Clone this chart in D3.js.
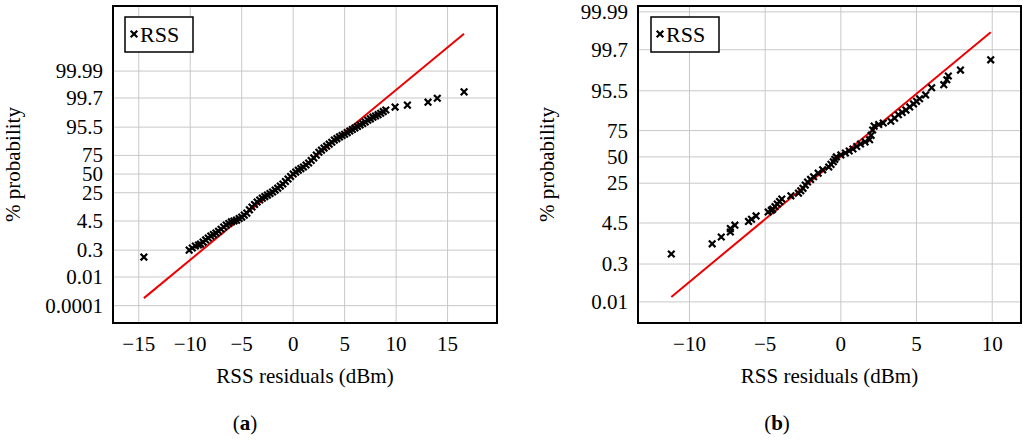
<!DOCTYPE html>
<html>
<head>
<meta charset="utf-8">
<script src="https://cdn.jsdelivr.net/npm/d3@7"></script>
<style>
  body { margin: 0; background: #fff; }
</style>
</head>
<body>
<svg id="chart" width="1024" height="440" font-family="'Liberation Serif', 'Times New Roman', Times, 'DejaVu Serif', serif"></svg>
<script>
// y tick labels (% probability)
const yTicksA = [0.0001, 0.01, 0.3, 4.5, 25, 50, 75, 95.5, 99.7, 99.99]
const yTicksB = [0.01, 0.3, 4.5, 25, 50, 75, 95.5, 99.7, 99.99]
const xTicksA = [-15, -10, -5, 0, 5, 10, 15]
const xTicksB = [-10, -5, 0, 5, 10]

// [residual dBm, % probability]
const pointsA = [
    [-14.5, 0.135], [-10.1, 0.3], [-9.8, 0.38], [-9.5, 0.47], [-9.2, 0.52], [-9.0, 0.57],
    [-8.75, 0.7], [-8.5, 0.87], [-8.25, 1.05], [-8, 1.25], [-7.75, 1.45], [-7.5, 1.66],
    [-7.25, 1.95], [-7, 2.3], [-6.75, 2.8], [-6.5, 3.3], [-6.25, 3.7], [-6, 4.2],
    [-5.75, 4.5], [-5.5, 4.8], [-5.25, 5.4], [-5, 6.0], [-4.75, 6.9], [-4.5, 7.9],
    [-4.25, 9.8], [-4, 11.7], [-3.75, 13.6], [-3.5, 15.6], [-3.25, 17.4], [-3, 19.2],
    [-2.75, 20.8], [-2.5, 22.4], [-2.25, 24.1], [-2, 25.8], [-1.75, 28.1], [-1.5, 30.5],
    [-1.25, 33.2], [-1, 35.9], [-0.75, 39.4], [-0.5, 42.9], [-0.25, 46.5], [0, 50],
    [0.25, 52.8], [0.5, 55.6], [0.75, 57.8], [1, 60], [1.25, 62.8], [1.5, 65.5],
    [1.75, 68.8], [2, 72], [2.25, 75.3], [2.5, 78.5], [2.75, 80.6], [3, 82.6],
    [3.25, 84.3], [3.5, 86], [3.75, 87.5], [4, 89], [4.25, 90], [4.5, 91],
    [4.75, 91.8], [5, 92.5], [5.25, 93.3], [5.5, 94], [5.75, 94.6], [6, 95.2],
    [6.25, 95.7], [6.5, 96.2], [6.75, 96.6], [7, 97], [7.25, 97.4], [7.5, 97.7],
    [7.75, 98.0], [8, 98.2], [8.25, 98.4], [8.5, 98.6], [8.75, 98.8], [9, 98.96],
    [9.9, 99.22], [11.1, 99.36], [13.1, 99.53], [14, 99.69], [16.6, 99.85]
]
const pointsB = [
    [-11.2, 0.64], [-8.5, 1.29], [-7.9, 2.0], [-7.3, 2.7], [-7.3, 3.3], [-7.0, 4.0],
    [-6.1, 4.9], [-5.9, 5.5], [-5.6, 6.5], [-4.8, 7.9], [-4.6, 8.5], [-4.5, 9],
    [-4.35, 10.1], [-4.2, 11.3], [-4.05, 12.6], [-3.9, 14], [-3.3, 15.9], [-2.8, 17.6],
    [-2.65, 19.3], [-2.5, 21], [-2.35, 23.5], [-2.2, 26], [-2.0, 28.2], [-1.8, 30.5],
    [-1.5, 33.8], [-1.2, 37], [-0.8, 39.8], [-0.65, 42.4], [-0.5, 45], [-0.4, 47.5],
    [-0.3, 50], [0, 52], [0.3, 54], [0.55, 56], [0.8, 58], [1.05, 60.5], [1.3, 63],
    [1.6, 65], [1.9, 67], [2.0, 71], [2.1, 75.5], [2.2, 78.5], [2.5, 79.7], [2.8, 80.8],
    [3.3, 82], [3.55, 84], [3.8, 86], [4.05, 87.3], [4.3, 88.5], [4.55, 90], [4.8, 91.3],
    [5.0, 92.3], [5.2, 93.2], [5.6, 94.4], [6.0, 96.2], [6.8, 96.8], [7.0, 97.6],
    [7.1, 98.1], [7.9, 98.7], [9.9, 99.36]
]

// fitted normal lines: endpoints [residual, % probability]
const fitA = [[-14.5, 0.00037], [16.6, 99.99998]]
const fitB = [[-11.2, 0.0165], [9.9, 99.93]]

// inverse normal CDF (Acklam)
function probit(p) {
    const a = [-39.6968302866538, 220.946098424521, -275.928510446969, 138.357751867269, -30.6647980661472, 2.50662827745924]
    const b = [-54.4760987982241, 161.585836858041, -155.698979859887, 66.8013118877197, -13.2806815528857]
    const c = [-0.00778489400243029, -0.322396458041136, -2.40075827716184, -2.54973253934373, 4.37466414146497, 2.93816398269878]
    const d = [0.00778469570904146, 0.32246712907004, 2.445134137143, 3.75440866190742]
    const pl = 0.02425
    let q, r
    if (p < pl) {
        q = Math.sqrt(-2 * Math.log(p))
        return (((((c[0]*q+c[1])*q+c[2])*q+c[3])*q+c[4])*q+c[5]) / ((((d[0]*q+d[1])*q+d[2])*q+d[3])*q+1)
    }
    if (p > 1 - pl) {
        q = Math.sqrt(-2 * Math.log(1 - p))
        return -(((((c[0]*q+c[1])*q+c[2])*q+c[3])*q+c[4])*q+c[5]) / ((((d[0]*q+d[1])*q+d[2])*q+d[3])*q+1)
    }
    q = p - 0.5
    r = q * q
    return (((((a[0]*r+a[1])*r+a[2])*r+a[3])*r+a[4])*r+a[5])*q / (((((b[0]*r+b[1])*r+b[2])*r+b[3])*r+b[4])*r+1)
}

const svg = d3.select("#chart")
const fmt = v => String(v).replace("-", "\u2212")

const drawPanel = (cfg) => {
    const g = svg.append("g")
    const { left, right, top, bottom } = cfg.box
    const x = d3.scaleLinear().domain(cfg.xDomain).range([left, right])
    const z = d3.scaleLinear().domain(cfg.zDomain).range([bottom, top])
    const y = p => z(probit(p / 100))

    // grid
    g.selectAll(".gx").data(cfg.xTicks).enter().append("line")
        .attr("x1", d => x(d)).attr("x2", d => x(d))
        .attr("y1", top).attr("y2", bottom)
        .attr("stroke", "#c8c8c8").attr("stroke-width", 1)
    g.selectAll(".gy").data(cfg.yTicks).enter().append("line")
        .attr("x1", left).attr("x2", right)
        .attr("y1", d => y(d)).attr("y2", d => y(d))
        .attr("stroke", "#c8c8c8").attr("stroke-width", 1)

    // fit line
    g.append("path")
        .datum(cfg.fit)
        .attr("fill", "none")
        .attr("stroke", "#ee0000")
        .attr("stroke-width", 2)
        .attr("d", d3.line().x(d => x(d[0])).y(d => y(d[1])))

    // points
    const sym = d3.symbol(d3.symbolX, 30)
    g.selectAll(".pt").data(cfg.points).enter().append("path")
        .attr("d", sym)
        .attr("transform", d => `translate(${x(d[0])},${y(d[1])})`)
        .attr("fill", "none").attr("stroke", "#000").attr("stroke-width", 2.2)

    // frame
    g.append("rect")
        .attr("x", left).attr("y", top)
        .attr("width", right - left).attr("height", bottom - top)
        .attr("fill", "none").attr("stroke", "#000").attr("stroke-width", 2)

    // tick labels
    g.selectAll(".tx").data(cfg.xTicks).enter().append("text")
        .attr("x", d => x(d)).attr("y", bottom + 28)
        .attr("text-anchor", "middle").attr("font-size", 21)
        .text(fmt)
    g.selectAll(".ty").data(cfg.yTicks).enter().append("text")
        .attr("x", left - 10).attr("y", d => y(d) + 7)
        .attr("text-anchor", "end").attr("font-size", 21)
        .text(d => String(d))

    // axis labels
    g.append("text")
        .attr("x", (left + right) / 2).attr("y", bottom + 60)
        .attr("text-anchor", "middle").attr("font-size", 21)
        .text("RSS residuals (dBm)")
    g.append("text")
        .attr("transform", `translate(${cfg.yLabelX},${(top + bottom) / 2}) rotate(-90)`)
        .attr("text-anchor", "middle").attr("font-size", 21)
        .text("% probability")

    // legend
    const lg = cfg.legend
    g.append("rect")
        .attr("x", lg.x).attr("y", lg.y).attr("width", 68).attr("height", 35)
        .attr("fill", "#fff").attr("stroke", "#000").attr("stroke-width", 1.5)
    g.append("path")
        .attr("d", sym)
        .attr("transform", `translate(${lg.x + 9},${lg.y + 17})`)
        .attr("fill", "none").attr("stroke", "#000").attr("stroke-width", 2.2)
    g.append("text")
        .attr("x", lg.x + 15).attr("y", lg.y + 25)
        .attr("font-size", 22)
        .text("RSS")

    // caption
    const cap = g.append("text")
        .attr("x", cfg.caption).attr("y", 430)
        .attr("text-anchor", "middle").attr("font-size", 21)
    cap.append("tspan").text("(")
    cap.append("tspan").attr("font-weight", "bold").text(cfg.letter)
    cap.append("tspan").text(")")
}

drawPanel({
    box: { left: 113, right: 497, top: 6, bottom: 323 },
    xDomain: [-17.5, 19.8], zDomain: [-5.38, 6.07],
    xTicks: xTicksA, yTicks: yTicksA, points: pointsA, fit: fitA,
    yLabelX: 20, legend: { x: 125, y: 17 }, caption: 245, letter: "a"
})
drawPanel({
    box: { left: 638, right: 1021, top: 6, bottom: 323 },
    xDomain: [-13.4, 11.9], zDomain: [-4.26, 3.87],
    xTicks: xTicksB, yTicks: yTicksB, points: pointsB, fit: fitB,
    yLabelX: 554, legend: { x: 651, y: 17 }, caption: 777, letter: "b"
})
</script>
</body>
</html>
